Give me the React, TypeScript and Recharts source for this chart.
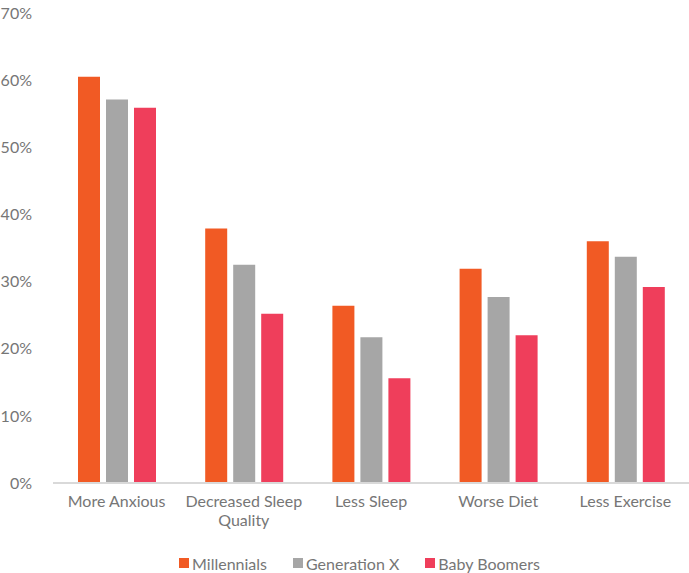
import { BarChart, Bar, XAxis, YAxis, Legend, Text } from 'recharts';

const categories = ['More Anxious', 'Decreased Sleep Quality', 'Less Sleep', 'Worse Diet', 'Less Exercise'];
const millennials = [60.5, 37.9, 26.4, 31.9, 36.0];
const generationX = [57.1, 32.5, 21.7, 27.7, 33.7];
const babyBoomers = [55.9, 25.2, 15.6, 22.0, 29.2];
const yTicks = [0, 10, 20, 30, 40, 50, 60, 70];

const SERIES = [
  { key: 'millennials', name: 'Millennials', color: '#F15A24' },
  { key: 'generationX', name: 'Generation X', color: '#A6A6A6' },
  { key: 'babyBoomers', name: 'Baby Boomers', color: '#EF3E5B' },
];

const data = categories.map((c, i) => ({
  name: c,
  millennials: millennials[i],
  generationX: generationX[i],
  babyBoomers: babyBoomers[i],
}));

const FONT = 'Lato, "Open Sans", sans-serif';
const TEXT = '#767676';

function CategoryTick(props: any) {
  const { x, y, payload } = props;
  return (
    <Text
      x={x}
      y={y}
      width={135}
      textAnchor="middle"
      verticalAnchor="start"
      lineHeight={19}
      fontSize={16}
      fontFamily={FONT}
      fill={TEXT}
    >
      {payload.value}
    </Text>
  );
}

function LegendContent() {
  return (
    <div style={{ display: 'flex', justifyContent: 'center', gap: 26, height: 20, paddingLeft: 30, alignItems: 'center', fontFamily: FONT, fontSize: 16, color: TEXT }}>
      {SERIES.map(s => (
        <div key={s.key} style={{ display: 'flex', alignItems: 'center', gap: 3 }}>
          <div style={{ width: 10, height: 10, background: s.color }} />
          <span>{s.name}</span>
        </div>
      ))}
    </div>
  );
}

export default function App() {
  return (
    <div style={{ position: 'absolute', left: 0, top: 0, width: 689, height: 573, background: '#fff' }}>
      <BarChart
        width={689}
        height={573}
        data={data}
        margin={{ top: 13, right: 0, bottom: 0, left: 0 }}
        barGap={6}
        barSize={22}
      >
        <XAxis
          dataKey="name"
          axisLine={{ stroke: '#D9D9D9', strokeWidth: 2 }}
          tickLine={false}
          tickSize={0}
          tickMargin={13}
          height={70}
          interval={0}
          tick={<CategoryTick />}
        />
        <YAxis
          width={53}
          domain={[0, 70]}
          ticks={yTicks}
          axisLine={false}
          tickLine={false}
          tickMargin={15}
          tickFormatter={(v: number) => `${v}%`}
          tick={{ fontSize: 16, fontFamily: FONT, fill: TEXT }}
        />
        <Legend verticalAlign="bottom" content={<LegendContent />} />
        {SERIES.map(s => (
          <Bar key={s.key} dataKey={s.key} name={s.name} fill={s.color} isAnimationActive={false} />
        ))}
      </BarChart>
    </div>
  );
}
